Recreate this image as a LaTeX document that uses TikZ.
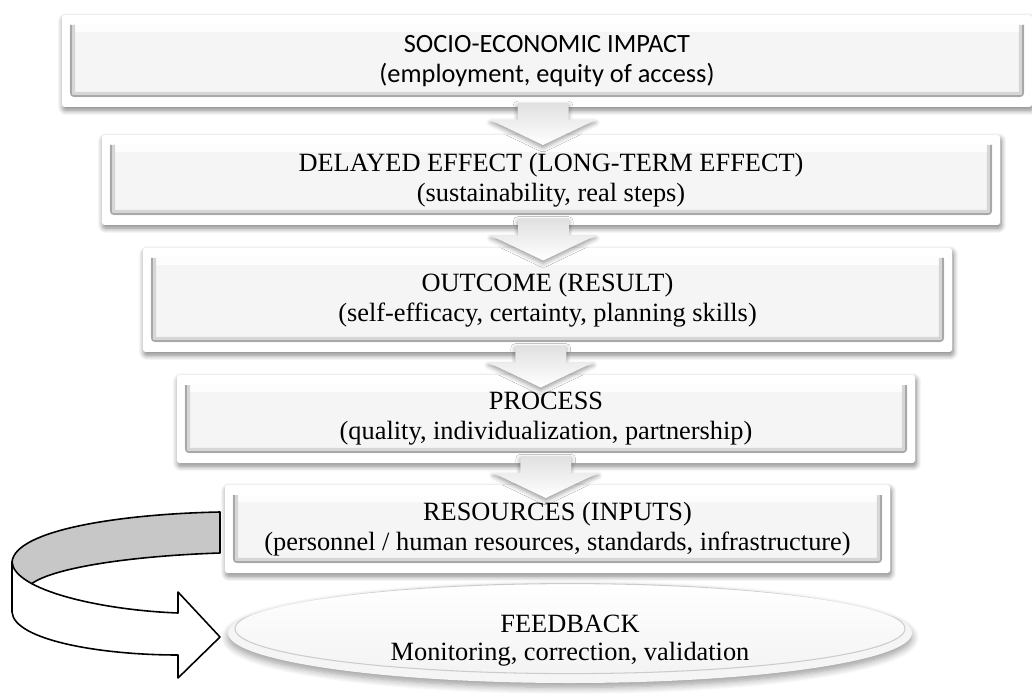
\documentclass[tikz,border=0pt]{standalone}
\usepackage{fontspec}
\setmainfont{Liberation Serif}
\newfontfamily\calibri{Carlito}
\usetikzlibrary{shapes.geometric,shadows.blur,calc}

\begin{document}
\begin{tikzpicture}[
  tier/.style={rectangle, rounded corners=1.5pt, fill=white, inner sep=0pt, align=center,
    font=\fontsize{15}{17}\selectfont,
    blur shadow={shadow xshift=0.6pt, shadow yshift=-1.8pt, shadow blur radius=3pt, shadow blur steps=8, shadow opacity=50},
    path picture={
      \coordinate (sw) at ([shift={(0.16,0.2)}]path picture bounding box.south west);
      \coordinate (ne) at ([shift={(-0.16,-0.2)}]path picture bounding box.north east);
      \fill[black!4] (sw) rectangle (ne);
      \fill[white!70!black!2] (sw |- ne) rectangle ([yshift=-0.14cm]ne);
      \draw[black!16, line width=3pt] ([xshift=0.05cm]sw |- ne) -- ([shift={(0.05,0.05)}]sw) -- ([shift={(-0.05,0.05)}]sw -| ne) -- ([xshift=-0.05cm]ne);
      \draw[black!34, line width=0.9pt] ([xshift=0.02cm]sw |- ne) -- ([shift={(0.02,0.02)}]sw) -- ([shift={(-0.02,0.02)}]sw -| ne) -- ([xshift=-0.02cm]ne);
    }},
  fbdisc/.style={ellipse, inner sep=0pt, fill=black!4,
    blur shadow={shadow xshift=0pt, shadow yshift=-2.5pt, shadow blur radius=4pt, shadow blur steps=8, shadow opacity=40},
    path picture={
      \shade[top color=white, bottom color=black!5, draw=black!20, line width=0.6pt]
        ([yshift=2.5pt]path picture bounding box.center) ellipse [x radius=6.7cm, y radius=0.9cm];
    }},
  ribbon/.style={draw=black, line width=0.9pt, line join=round},
  pics/flowarrow/.style={code={
    \shade[top color=black!12, bottom color=white,
      blur shadow={shadow xshift=0pt, shadow yshift=-1.5pt, shadow blur radius=2.5pt, shadow opacity=40}]
      (-0.51,0.42) -- (0.51,0.42) -- (0.51,0.08) -- (1.05,0.08) -- (0,-0.42) -- (-1.05,0.08) -- (-0.51,0.08) -- cycle;
  }}
]
\useasboundingbox (0,0) rectangle (20.64,-13.98);

\node[tier, font=\calibri\fontsize{15}{17}\selectfont, minimum width=19.4cm, minimum height=1.84cm] (impact) at (10.94,-1.22)
  {SOCIO-ECONOMIC IMPACT\\(employment, equity of access)};
\node[tier, minimum width=17.96cm, minimum height=1.8cm] (delayed) at (11.02,-3.6)
  {DELAYED EFFECT (LONG-TERM EFFECT)\\(sustainability, real steps)};
\node[tier, minimum width=16.18cm, minimum height=2.08cm] (outcome) at (10.95,-6.0)
  {OUTCOME (RESULT)\\(self-efficacy, certainty, planning skills)};
\node[tier, minimum width=14.76cm, minimum height=1.76cm] (process) at (10.92,-8.38)
  {PROCESS\\(quality, individualization, partnership)};
\node[tier, minimum width=13.3cm, minimum height=1.76cm] (resources) at (11.15,-10.58)
  {RESOURCES (INPUTS)\\(personnel / human resources, standards, infrastructure)};

\node[fbdisc, minimum width=13.68cm, minimum height=2.0cm] (feedback) at (11.4,-12.66) {};
\node[align=center, font=\fontsize{15}{16}\selectfont] (fbtext) at ([yshift=-0.16cm]feedback.center)
  {FEEDBACK\\Monitoring, correction, validation};

\foreach \a/\b in {impact/delayed, delayed/outcome, outcome/process, process/resources}
  \pic at ($(\a.south)!0.5!(\b.north)+(-0.12,-0.06)$) {flowarrow};

% loop back from the inputs into the feedback
\draw[ribbon, fill=black!22] (4.40,-10.24) .. controls (2.4,-10.28) and (0.3,-10.6) .. (0.24,-11.24)
  -- (0.24,-11.5) -- (0.6,-11.7) .. controls (1.0,-11.36) and (2.6,-11.12) .. (4.40,-11.06) -- cycle;
\draw[ribbon, fill=white] (0.24,-11.24) .. controls (0.28,-11.8) and (2.0,-12.2) .. (3.56,-12.26)
  -- (3.56,-11.84) -- (4.40,-12.74) -- (3.56,-13.56) -- (3.56,-13.10)
  .. controls (2.0,-13.1) and (0.28,-12.8) .. (0.24,-12.24) -- cycle;
\end{tikzpicture}
\end{document}
